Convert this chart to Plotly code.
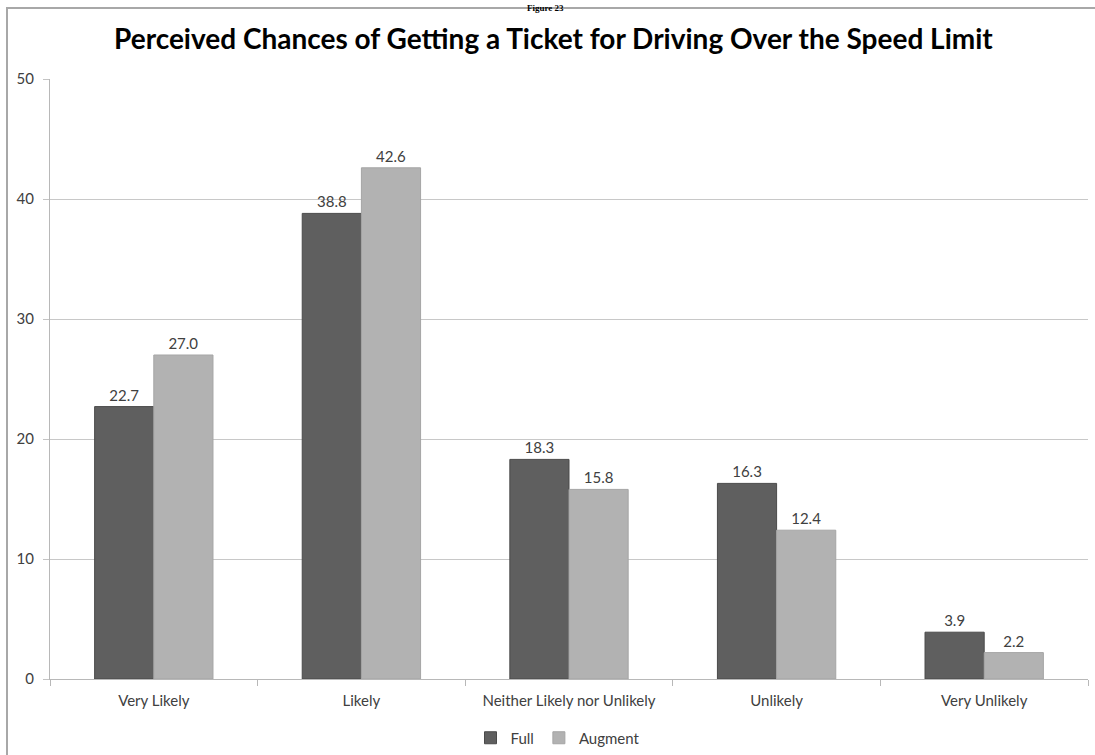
import plotly.graph_objects as go

categories = ["Very Likely", "Likely", "Neither Likely nor Unlikely", "Unlikely", "Very Unlikely"]
full_values = [22.7, 38.8, 18.3, 16.3, 3.9]
augment_values = [27.0, 42.6, 15.8, 12.4, 2.2]
y_ticks = [0, 10, 20, 30, 40, 50]

FONT = "Lato"
TXT = "#404040"

fig = go.Figure()
fig.add_trace(go.Bar(
    name="Full", x=categories, y=full_values,
    marker=dict(color="#5f5f5f", line=dict(color="#4a4a4a", width=1)),
    text=full_values, texttemplate="%{y:.1f}", textposition="outside",
    textfont=dict(family=FONT, size=15, color=TXT), cliponaxis=False,
))
fig.add_trace(go.Bar(
    name="Augment", x=categories, y=augment_values,
    marker=dict(color="#b2b2b2", line=dict(color="#a5a5a5", width=1)),
    text=augment_values, texttemplate="%{y:.1f}", textposition="outside",
    textfont=dict(family=FONT, size=15, color=TXT), cliponaxis=False,
))

L, R, T, B = 50, 7, 79, 76
W, H = 1095, 755
pw, ph = W - L - R, H - T - B

def px_x(x):
    return (x - L) / pw

def px_y(y):
    return (H - B - y) / ph

fig.update_layout(
    width=W, height=H,
    margin=dict(l=L, r=R, t=T, b=B, autoexpand=False),
    paper_bgcolor="white", plot_bgcolor="white",
    barmode="group", bargap=0.43, bargroupgap=0,
    font=dict(family=FONT, size=15, color=TXT),
    showlegend=True,
    legend=dict(orientation="h", x=px_x(558), xanchor="center", y=px_y(738), yanchor="middle",
                font=dict(family=FONT, size=15, color=TXT), itemwidth=30, traceorder="normal"),
    xaxis=dict(
        showline=True, linecolor="#b8b8b8", linewidth=1,
        ticks="outside", tickson="boundaries", ticklen=6, tickcolor="#b8b8b8",
        tickfont=dict(family=FONT, size=15, color=TXT), ticklabelstandoff=8,
        showgrid=False, automargin=False,
    ),
    yaxis=dict(
        range=[0, 50], tickvals=y_ticks,
        showline=True, linecolor="#b8b8b8", linewidth=1,
        ticks="outside", ticklen=6, tickcolor="#c4c4c4",
        showgrid=True, gridcolor="#c8c8c8", gridwidth=1,
        zeroline=False, ticklabelstandoff=6, automargin=False,
        tickfont=dict(family=FONT, size=15, color=TXT),
    ),
    shapes=[dict(type="rect", xref="paper", yref="paper",
                 x0=px_x(7), x1=px_x(1105), y0=px_y(8), y1=px_y(770),
                 line=dict(color="#a8a8a8", width=2), layer="below")],
    annotations=[
        dict(text="<b>Perceived Chances of Getting a Ticket for Driving Over the Speed Limit</b>",
             xref="paper", yref="paper", x=px_x(553), y=px_y(38), xanchor="center", yanchor="middle",
             showarrow=False, font=dict(family=FONT, size=28, color="#000000")),
        dict(text="<b>Figure 23</b>", xref="paper", yref="paper", x=px_x(545), y=px_y(1),
             xanchor="center", yanchor="top", showarrow=False,
             font=dict(family="Liberation Serif", size=9, color="#000000")),
    ],
)

fig.write_html("out.html")
